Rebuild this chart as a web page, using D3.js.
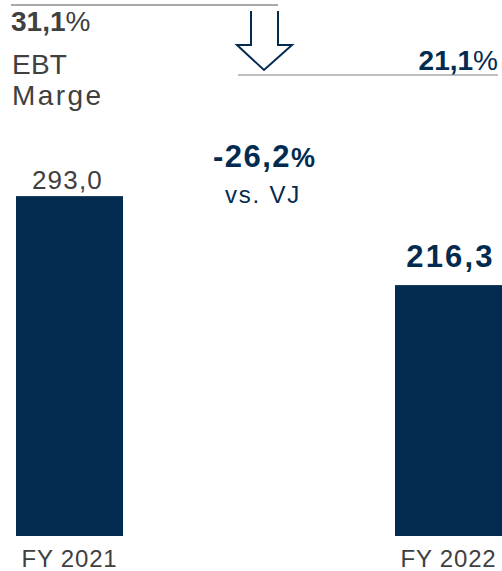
<!DOCTYPE html>
<html>
<head>
<meta charset="utf-8">
<script src="https://cdn.jsdelivr.net/npm/d3@7"></script>
<style>
  body { margin: 0; background: #fff; }
  text { font-family: "Liberation Sans", Arial, sans-serif; }
</style>
</head>
<body>
<div id="container"></div>
<script>
const categories = ["FY 2021", "FY 2022"]
const values = [293.0, 216.3]
const margins = [31.1, 21.1]
const change = -26.2
const marginLabel = ["EBT", "Marge"]
const changeLabel = "vs. VJ"

const width = 502
const height = 571
const navy = "#032b4f"
const grey = "#404040"

const de = d3.formatLocale({ decimal: ",", thousands: ".", grouping: [3], currency: ["", " €"], minus: "-" })
const fmt = de.format(".1f")

const svg = d3.select("#container").append("svg")
    .attr("width", width)
    .attr("height", height)

const x = d3.scalePoint().domain(categories).range([69.5, 448.5])
const y = d3.scaleLinear().domain([0, 300]).range([536, 188])
const barWidth = 107

/********************* Bars ************************/

svg.selectAll(".bar")
    .data(values).enter()
    .append("rect")
    .attr("class", "bar")
    .attr("x", (d, i) => x(categories[i]) - barWidth / 2)
    .attr("y", d => y(d))
    .attr("width", barWidth)
    .attr("height", d => y(0) - y(d))
    .attr("fill", navy)

// value labels: first normal grey, last bold navy
svg.selectAll(".value")
    .data(values).enter()
    .append("text")
    .attr("class", "value")
    .attr("x", (d, i) => x(categories[i]) + (i ? 2 : -2))
    .attr("y", d => y(d) - (d === values[values.length - 1] ? 18 : 7))
    .attr("text-anchor", "middle")
    .attr("font-size", (d, i) => i ? 31 : 26)
    .attr("font-weight", (d, i) => i ? "bold" : "normal")
    .attr("letter-spacing", (d, i) => i ? 2.2 : 1.2)
    .attr("fill", (d, i) => i ? navy : grey)
    .text(d => fmt(d))

svg.selectAll(".cat")
    .data(categories).enter()
    .append("text")
    .attr("class", "cat")
    .attr("x", d => x(d))
    .attr("y", 567)
    .attr("text-anchor", "middle")
    .attr("font-size", 24)
    .attr("letter-spacing", 0.8)
    .attr("fill", grey)
    .text(d => d)

/********************* Margin annotation ************************/

svg.append("line")
    .attr("x1", 11).attr("x2", 278)
    .attr("y1", 5).attr("y2", 5)
    .attr("stroke", "#8c8c8c").attr("stroke-width", 1.5)

svg.append("line")
    .attr("x1", 238).attr("x2", 498)
    .attr("y1", 75).attr("y2", 75)
    .attr("stroke", "#bfbfbf").attr("stroke-width", 2)

const m0 = svg.append("text")
    .attr("x", 11).attr("y", 31)
    .attr("font-size", 28)
    .attr("fill", grey)
m0.append("tspan").attr("font-weight", "bold").text(fmt(margins[0]))
m0.append("tspan").text("%")

svg.selectAll(".mlabel")
    .data(marginLabel).enter()
    .append("text")
    .attr("class", "mlabel")
    .attr("x", 12)
    .attr("y", (d, i) => 74 + i * 31)
    .attr("font-size", 28)
    .attr("letter-spacing", (d, i) => i ? 2.4 : 0.2)
    .attr("fill", grey)
    .text(d => d)

const m1 = svg.append("text")
    .attr("x", 498).attr("y", 70)
    .attr("text-anchor", "end")
    .attr("font-size", 28)
    .attr("fill", navy)
m1.append("tspan").attr("font-weight", "bold").text(fmt(margins[1]))
m1.append("tspan").text("%")

// outlined down arrow
const arrow = d3.path()
arrow.moveTo(251, 11)
arrow.lineTo(251, 45)
arrow.lineTo(237, 45)
arrow.lineTo(264, 70)
arrow.lineTo(292, 45)
arrow.lineTo(278, 45)
arrow.lineTo(278, 11)
svg.append("path")
    .attr("d", arrow.toString())
    .attr("fill", "none")
    .attr("stroke", navy)
    .attr("stroke-width", 2)

/********************* Change annotation ************************/

const c = svg.append("text")
    .attr("x", 264).attr("y", 167)
    .attr("text-anchor", "middle")
    .attr("fill", navy)
c.append("tspan").attr("font-size", 31).attr("font-weight", "bold").attr("letter-spacing", 1.5).text(fmt(change))
c.append("tspan").attr("font-size", 27).attr("font-weight", "bold").text("%")

svg.append("text")
    .attr("x", 263).attr("y", 203)
    .attr("text-anchor", "middle")
    .attr("font-size", 24)
    .attr("letter-spacing", 1.8)
    .attr("fill", navy)
    .text(changeLabel)
</script>
</body>
</html>
